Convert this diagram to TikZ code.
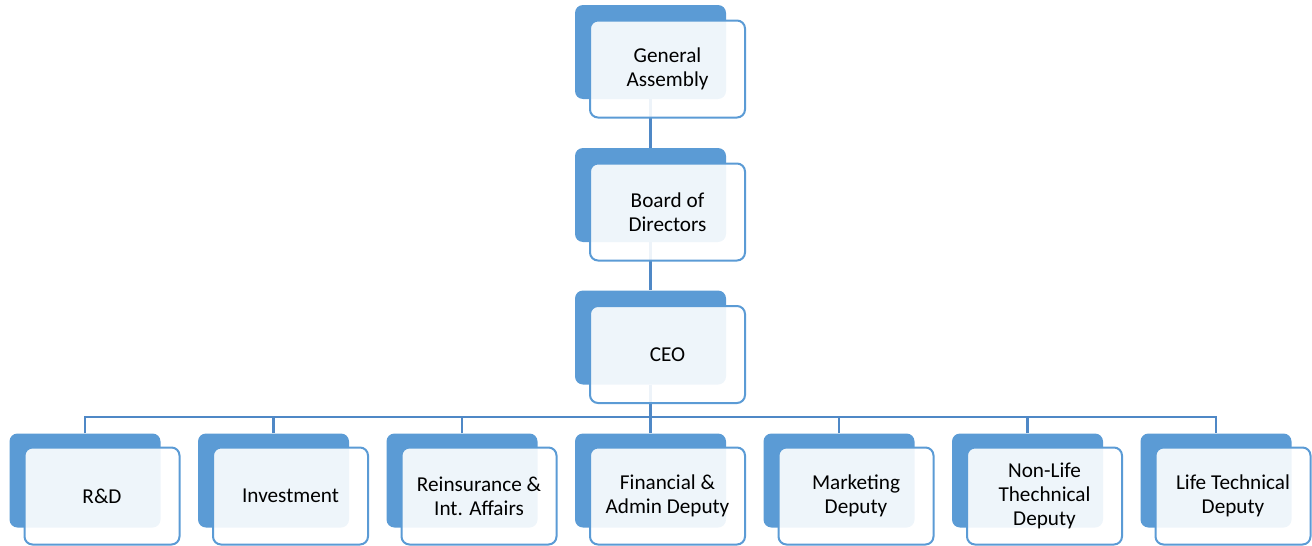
\documentclass[tikz,border=0pt]{standalone}
\usepackage{fontspec}
\setmainfont{Carlito}
\definecolor{cblue}{HTML}{5B9BD5}
\definecolor{lblue}{HTML}{4F88C6}
\begin{document}
\begin{tikzpicture}[x=1pt,y=-1pt,
 back/.style={rectangle,rounded corners=8pt,fill=cblue,minimum width=151pt,minimum height=94pt,inner sep=0pt},
 front/.style={rectangle,rounded corners=8pt,draw=cblue,line width=2pt,fill=white,fill opacity=0.9,draw opacity=1,text opacity=1,minimum width=155pt,minimum height=97pt,inner sep=0pt,align=center,font=\fontsize{21.2}{24}\selectfont},
 link/.style={draw=lblue,line width=2.2pt}]
\useasboundingbox (0,0) rectangle (1312,546);
% back boxes
\node[back] (b1) at (650.5,52) {};
\node[back] (b2) at (650.5,195) {};
\node[back] (b3) at (650.5,337.5) {};
\foreach \i in {1,...,7}{
  \node[back] (d\i) at ({85+188.5*(\i-1)},480.5) {};
}
% connectors
\coordinate (bar) at (650.5,417);
\draw[link] (b1.south) -- (b2.north);
\draw[link] (b2.south) -- (b3.north);
\draw[link] (b3.south) -- (bar);
\draw[link] (d1.north) -- (d1.north |- bar) -- (d7.north |- bar) -- (d7.north);
\foreach \i in {2,...,6}{
  \draw[link] (d\i.north) -- (d\i.north |- bar);
}
% front boxes
\node[front] (f1) at (667.5,69) {General\\Assembly};
\node[front] (f2) at (667.5,212) {Board of\\Directors};
\node[front] (f3) at (667.5,354.5) {CEO};
\node[front] (g1) at (102,496) {R\&D};
\node[front] (g2) at (290.5,496) {Investment};
\node[front] (g3) at (479,496) {Reinsurance \&\\Int. Affairs};
\node[front] (g4) at (667.5,496) {Financial \&\\Admin Deputy};
\node[front] (g5) at (856,496) {Marketing\\Deputy};
\node[front] (g6) at (1044.5,496) {Non-Life\\Thechnical\\Deputy};
\node[front] (g7) at (1233,496) {Life Technical\\Deputy};
\end{tikzpicture}
\end{document}
